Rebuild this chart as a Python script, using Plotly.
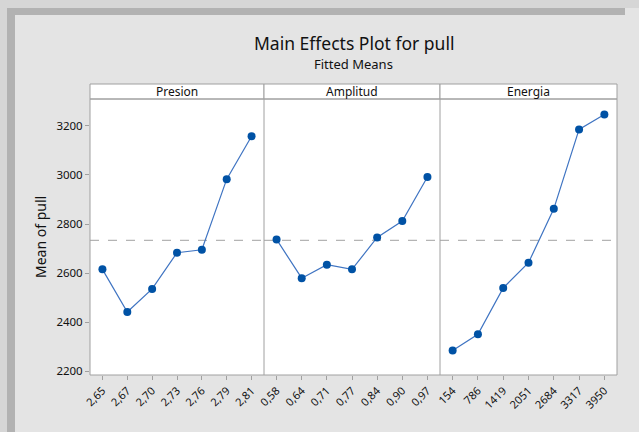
import plotly.graph_objects as go

# ---- data ----
factor_names = ["Presion", "Amplitud", "Energia"]
presion_levels = ["2,65", "2,67", "2,70", "2,73", "2,76", "2,79", "2,81"]
presion_means = [2615, 2441, 2535, 2683, 2695, 2983, 3158]
amplitud_levels = ["0,58", "0,64", "0,71", "0,77", "0,84", "0,90", "0,97"]
amplitud_means = [2737, 2579, 2634, 2615, 2745, 2812, 2992]
energia_levels = ["154", "786", "1419", "2051", "2684", "3317", "3950"]
energia_means = [2284, 2350, 2539, 2642, 2862, 3186, 3247]
overall_mean = 2733
y_ticks = [2200, 2400, 2600, 2800, 3000, 3200]

levels = [presion_levels, amplitud_levels, energia_levels]
means = [presion_means, amplitud_means, energia_means]

# ---- geometry (pixels) ----
W, H = 639, 432
ml, mr, mt, mb = 90, 22, 84, 57
pw = W - ml - mr
ph = H - mt - mb
plot_top_px = 99
plot_bottom_px = H - mb
ytop = (plot_bottom_px - plot_top_px) / ph
edges_px = [90, 264, 440, 617]
edges = [(e - ml) / pw for e in edges_px]

FONT = "Noto Sans, Open Sans, sans-serif"


def px_x(p):
    return (p - ml) / pw


def px_y(p):
    return (plot_bottom_px - p) / ph


BORDER = "#a0a0a0"
fig = go.Figure()
layout = {}
shapes = []
annotations = []

for i in range(3):
    ax = "" if i == 0 else str(i + 1)
    fig.add_trace(go.Scatter(
        x=levels[i], y=means[i], mode="lines+markers",
        xaxis="x" + ax, yaxis="y" + ax,
        line=dict(color="#3f74c2", width=1.2),
        marker=dict(color="#0052a5", size=8),
        showlegend=False, hoverinfo="x+y",
        cliponaxis=False,
    ))
    layout["xaxis" + ax] = dict(
        domain=[edges[i], edges[i + 1]], type="category",
        range=[-0.5, 6.5], showline=False, ticks="outside", ticklen=4,
        tickcolor=BORDER,
        tickangle=-45, tickfont=dict(size=11, color="#111111", family=FONT),
        showgrid=False, zeroline=False, anchor="y" + ax, fixedrange=True,
    )
    ya = dict(
        domain=[0, ytop], range=[2184, 3310], showline=False,
        showgrid=False, zeroline=False, anchor="x" + ax, fixedrange=True,
    )
    if i == 0:
        ya.update(tickvals=y_ticks, ticks="outside", ticklen=4, tickcolor=BORDER,
                  tickfont=dict(size=11.5, color="#111111", family=FONT))
    else:
        ya.update(showticklabels=False, ticks="")
    layout["yaxis" + ax] = ya

    # reference line
    shapes.append(dict(type="line", xref="x" + ax + " domain", yref="y" + ax,
                       x0=0, x1=1, y0=overall_mean, y1=overall_mean,
                       line=dict(color="#b4b4b4", width=1.3, dash="dash"),
                       layer="below"))
    # strip
    shapes.append(dict(type="rect", xref="paper", yref="paper",
                       x0=edges[i], x1=edges[i + 1], y0=ytop, y1=1,
                       fillcolor="white", line=dict(color=BORDER, width=1)))
    annotations.append(dict(text=factor_names[i], xref="paper", yref="paper",
                            x=(edges[i] + edges[i + 1]) / 2, y=(ytop + 1) / 2,
                            showarrow=False, xanchor="center", yanchor="middle",
                            font=dict(size=12, color="#111111", family=FONT)))

# panel borders
shapes.append(dict(type="rect", xref="paper", yref="paper", x0=0, x1=1,
                   y0=0, y1=ytop, line=dict(color=BORDER, width=1)))
for e in edges[1:3]:
    shapes.append(dict(type="line", xref="paper", yref="paper", x0=e, x1=e,
                       y0=0, y1=ytop, line=dict(color=BORDER, width=1)))

# window-like frame bands
frame = [
    (0, 7, 0, H, "#d6d6d6"),
    (7, 15, 0, H, "#b2b2b2"),
    (0, W, 0, 8, "#d6d6d6"),
    (7, 625, 8, 15, "#b2b2b2"),
]
for x0, x1, y0, y1, c in frame:
    shapes.append(dict(type="rect", xref="paper", yref="paper",
                       x0=px_x(x0), x1=px_x(x1), y0=px_y(y0), y1=px_y(y1),
                       fillcolor=c, line=dict(width=0), layer="below"))

annotations.append(dict(text="Main Effects Plot for pull", xref="paper", yref="paper",
                        x=0.5, y=px_y(43), showarrow=False, xanchor="center",
                        yanchor="middle",
                        font=dict(size=17.5, color="#111111", family=FONT)))
annotations.append(dict(text="Fitted Means", xref="paper", yref="paper",
                        x=0.5, y=px_y(64), showarrow=False, xanchor="center",
                        yanchor="middle",
                        font=dict(size=13, color="#111111", family=FONT)))
annotations.append(dict(text="Mean of pull", xref="paper", yref="paper",
                        x=px_x(40), y=ytop / 2, showarrow=False, textangle=-90,
                        xanchor="center", yanchor="middle",
                        font=dict(size=14, color="#111111", family=FONT)))

fig.update_layout(
    width=W, height=H, margin=dict(l=ml, r=mr, t=mt, b=mb, autoexpand=False),
    paper_bgcolor="#e4e4e4", plot_bgcolor="white",
    shapes=shapes, annotations=annotations, **layout,
)
fig.write_html("out.html", config={"displayModeBar": False},
               post_script="document.body.style.margin='0';document.body.style.overflow='hidden';")
